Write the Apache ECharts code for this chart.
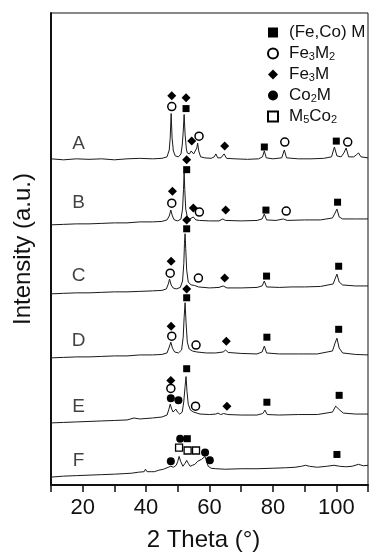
<!DOCTYPE html>
<html lang="en">
<head>
    <meta charset="UTF-8">
    <title>XRD patterns A-F</title>
    <script src="https://cdn.jsdelivr.net/npm/echarts@6/dist/echarts.min.js"></script>
    <style>
        html, body {
            margin: 0;
            padding: 0;
            background: #fff;
        }

        #main {
            width: 371px;
            height: 557px;
        }
    </style>
</head>
<body>
<div id="main"></div>
<script type="application/javascript">
    // [2theta (deg), intensity (a.u.)]
    var patternA = [[10,331],[14,330],[18,331],[22,330.5],[26,331],[30,330],[34,331],[38,331.5],[42,331],[45,331.5],[46.6,333],[47.3,340],[47.6,352],[47.9,377],[48.2,352],[48.6,339],[49.2,334],[50.2,333],[51.0,336],[51.4,345],[51.7,358],[52.0,376],[52.3,356],[52.7,341],[53.0,337],[53.3,339],[53.7,336],[54.2,339],[54.6,341],[55.0,336],[55.6,337],[56.0,342],[56.25,347],[56.6,339],[57.2,333],[58.5,332],[60.5,331.5],[61.5,333],[62.0,336],[62.6,332],[63.6,332],[64.6,336],[65.4,331.5],[68,331],[72,330.5],[75.5,331],[76.7,333],[77.3,339],[77.9,332],[80,331],[82.8,332],[83.6,340],[84.3,332],[88,331],[92,331],[96,331.5],[98.5,333],[99.4,343],[100.2,334],[101.5,333],[102.4,337],[103.1,342],[103.9,333],[105.5,333],[106.3,335],[107.0,337],[107.8,333],[110,332]];
    var patternB = [[10,264],[14,264.5],[18,265],[22,265],[26,265.5],[30,266],[34,266],[38,267],[42,267],[45,267.5],[46.6,269],[47.3,273],[47.8,279],[48.3,273],[48.9,269],[50.0,268],[51.0,270],[51.5,280],[51.8,300],[52.0,317],[52.2,300],[52.5,280],[53.0,272],[53.8,270],[54.9,272],[55.7,269],[56.8,268.5],[60,268],[63,268],[64.2,270],[65,268.5],[70,268],[75,268.5],[76.6,270],[77.3,275],[78,269],[81,268.5],[83.3,270],[84.5,268.5],[90,269],[95,269],[98.8,271],[99.6,276],[100.2,280],[100.9,272],[102,270],[106,270],[110,270]];
    var patternC = [[10,194],[14,194.5],[18,195],[22,195],[26,195.5],[30,196],[34,196],[38,196.5],[42,197],[45,197.5],[46.4,199],[47.0,204],[47.4,209],[47.9,203],[48.5,200],[49.5,199],[50.8,200.5],[51.5,207],[51.9,225],[52.1,245],[52.3,255],[52.5,240],[52.8,218],[53.3,206],[54.2,203],[55.3,202.5],[56.5,201],[60,200],[63,200.5],[64.3,202],[65.5,200],[70,200],[75,200.5],[76.6,202],[77.3,207],[78,201],[82,200.5],[86,201],[90,201],[95,201.5],[99.0,204],[99.7,210],[100.2,214],[100.9,206],[102,203],[106,202],[110,202]];
    var patternD = [[10,129],[14,129.5],[18,130],[22,130],[26,130.5],[30,131],[34,131],[38,132],[42,132],[45,132.5],[46.6,134],[47.3,140],[47.8,145],[48.3,139],[49.0,135],[50.2,134],[51.2,137],[51.7,150],[52.0,170],[52.3,185],[52.6,165],[53.0,145],[53.6,138],[54.6,136],[56,135],[59,134],[62,134],[64.3,135],[65.1,137],[65.9,134.5],[70,133.5],[75,133],[76.6,135],[77.3,141],[78,134],[82,133],[88,133],[94,133],[98.8,136],[99.6,144],[100.2,149],[100.9,139],[102,134],[106,132.5],[110,132]];
    var patternE = [[10,63],[14,63.5],[18,64],[22,64.5],[26,65],[30,65.5],[34,66],[36.2,68],[38,67],[42,68],[45,69],[46.6,71],[47.2,77],[47.6,82],[48.1,77],[48.5,74],[49.0,76],[49.4,77],[49.9,74],[50.6,72],[51.4,74],[51.9,85],[52.3,100],[52.6,110],[52.9,95],[53.3,82],[54,76],[55,74],[57,72],[60,71.5],[62.0,72],[62.7,73],[63.5,71.5],[64.5,72.5],[65.1,74],[65.8,71.5],[70,71],[75,71],[76.8,72.5],[77.5,76],[78.2,71.5],[82,71],[88,71.5],[94,71.5],[98.8,74],[99.8,80],[100.4,82],[101.1,76],[102.2,73],[106,72],[110,72]];
    var patternF = [[10,8],[14,9],[18,9.5],[22,10],[26,10.5],[30,11],[33,11.5],[35.5,12],[37.6,13],[39.4,13.5],[39.8,16],[40.3,13.5],[41.6,13.5],[42.1,15],[42.6,13.5],[44,15],[45.5,16],[47.0,18],[47.8,19],[48.6,18],[49.5,20],[50.0,24],[50.4,29],[50.9,24],[51.6,19],[52.3,22],[52.8,25],[53.3,22],[53.9,19],[54.6,20],[55.4,21],[56.25,24],[56.8,22],[57.5,26],[58.0,25],[58.6,29],[59.1,24],[59.6,19],[60.5,17],[62,16.5],[65,16],[70,16.5],[75,16.5],[80,17],[84,17.5],[87,18],[89,19],[90.3,20],[91.5,19],[94,18],[97,19],[99.3,20],[101,19],[103,18.5],[105,19],[107,21],[108.5,19.5],[110,20]];

    // phase markers above the peaks
    var feCoM = [[52.6,382],[77.3,343],[100.0,349],[52.8,320],[77.8,279],[100.4,287],[52.8,260],[78.0,212],[100.75,222],[52.8,190],[78.1,150],[100.75,158],[52.8,118],[78.1,84],[100.9,91],[53.0,47],[100.2,31]];
    var fe3M2 = [[48.1,384],[56.7,354],[83.75,348],[103.6,348],[48.1,286],[56.8,277],[84.2,278],[47.6,215],[56.5,210],[48.1,151],[55.75,142],[47.8,98],[55.6,80]];
    var fe3M = [[48.1,395],[52.6,393],[54.4,349],[64.8,344],[48.3,298],[52.8,330],[54.9,281],[65.1,279],[47.9,227],[52.8,269],[64.8,210],[47.9,161],[52.8,199],[65.3,146],[47.8,106],[65.5,80]];
    var co2M = [[47.8,88],[50.2,86],[47.8,24],[50.75,47],[58.6,33],[60.1,25]];
    var m5Co2 = [[50.4,38],[53.1,35],[55.75,35]];

    var phaseNames = ['(Fe,Co) M', 'Fe3M2', 'Fe3M', 'Co2M', 'M5Co2'];
    var sampleNames = ['A', 'B', 'C', 'D', 'E', 'F'];
    var sampleLabelY = [346, 286, 212, 146, 79, 25];
    var sampleLabelTheta = 18.7;
    var xTicks = [20, 40, 60, 80, 100];

    var patterns = [patternA, patternB, patternC, patternD, patternE, patternF];
    var FONT = '"Liberation Sans", Arial, sans-serif';

    var myChart = echarts.init(document.getElementById('main'));

    var series = [];
    patterns.forEach(function (p, i) {
        series.push({
            name: 'pattern ' + sampleNames[i],
            type: 'line',
            data: p,
            showSymbol: false,
            silent: true,
            lineStyle: {color: '#1a1a1a', width: 1},
            z: 2
        });
    });

    function phaseSeries(name, data, symbol, size, fill, border) {
        return {
            name: name,
            type: 'scatter',
            data: data,
            symbol: symbol,
            symbolSize: size,
            itemStyle: {color: fill, borderColor: '#000', borderWidth: border, opacity: 1},
            z: 4
        };
    }

    series.push(phaseSeries(phaseNames[0], feCoM, 'rect', 7, '#000', 0));
    series.push(phaseSeries(phaseNames[1], fe3M2, 'circle', 8, '#fff', 1.5));
    series.push(phaseSeries(phaseNames[2], fe3M, 'diamond', 9, '#000', 0));
    series.push(phaseSeries(phaseNames[3], co2M, 'circle', 8, '#000', 0));
    series.push(phaseSeries(phaseNames[4], m5Co2, 'rect', 7, '#fff', 1.3));

    // sample letters
    series.push({
        type: 'scatter',
        silent: true,
        symbolSize: 0,
        data: sampleNames.map(function (n, i) {
            return {name: n, value: [sampleLabelTheta, sampleLabelY[i]]};
        }),
        label: {
            show: true,
            position: 'inside',
            formatter: '{b}',
            fontFamily: FONT,
            fontSize: 19,
            color: '#111'
        },
        z: 5
    });

    var option = {
        animation: false,
        backgroundColor: '#fff',
        grid: {
            left: 51,
            right: 1,
            top: 13,
            bottom: 65,
            show: true,
            borderColor: '#111',
            borderWidth: 1
        },
        legend: {
            data: phaseNames,
            orient: 'vertical',
            left: 262,
            top: 19,
            itemWidth: 10,
            itemHeight: 10,
            itemGap: 4,
            selectedMode: false,
            formatter: function (name) {
                return name.replace(/(\d)/g, '{sub|$1}');
            },
            textStyle: {
                fontFamily: FONT,
                fontSize: 17,
                color: '#111',
                lineHeight: 17,
                padding: [0, 0, 0, 6],
                rich: {
                    sub: {
                        fontFamily: FONT,
                        fontSize: 11,
                        lineHeight: 9,
                        verticalAlign: 'bottom',
                        color: '#111'
                    }
                }
            }
        },
        xAxis: {
            type: 'value',
            min: 10,
            max: 110,
            interval: 10,
            name: '2 Theta (°)',
            nameLocation: 'middle',
            nameGap: 43,
            nameTextStyle: {fontFamily: FONT, fontSize: 24, color: '#111', padding: [0, 12, 0, 0]},
            axisLine: {lineStyle: {color: '#111', width: 2}},
            axisTick: {show: true, inside: false, length: 7, lineStyle: {color: '#111', width: 1.5}},
            axisLabel: {
                margin: 12,
                fontFamily: FONT,
                fontSize: 22,
                color: '#111',
                formatter: function (v) {
                    return xTicks.indexOf(v) >= 0 ? String(v) : '';
                }
            },
            splitLine: {show: false}
        },
        yAxis: {
            type: 'value',
            min: 0,
            max: 479,
            name: 'Intensity (a.u.)',
            nameLocation: 'middle',
            nameGap: 16,
            nameTextStyle: {fontFamily: FONT, fontSize: 24, color: '#111'},
            axisLine: {show: true, lineStyle: {color: '#111', width: 2}},
            axisTick: {show: false},
            axisLabel: {show: false},
            splitLine: {show: false}
        },
        series: series
    };

    myChart.setOption(option);
</script>
</body>
</html>
